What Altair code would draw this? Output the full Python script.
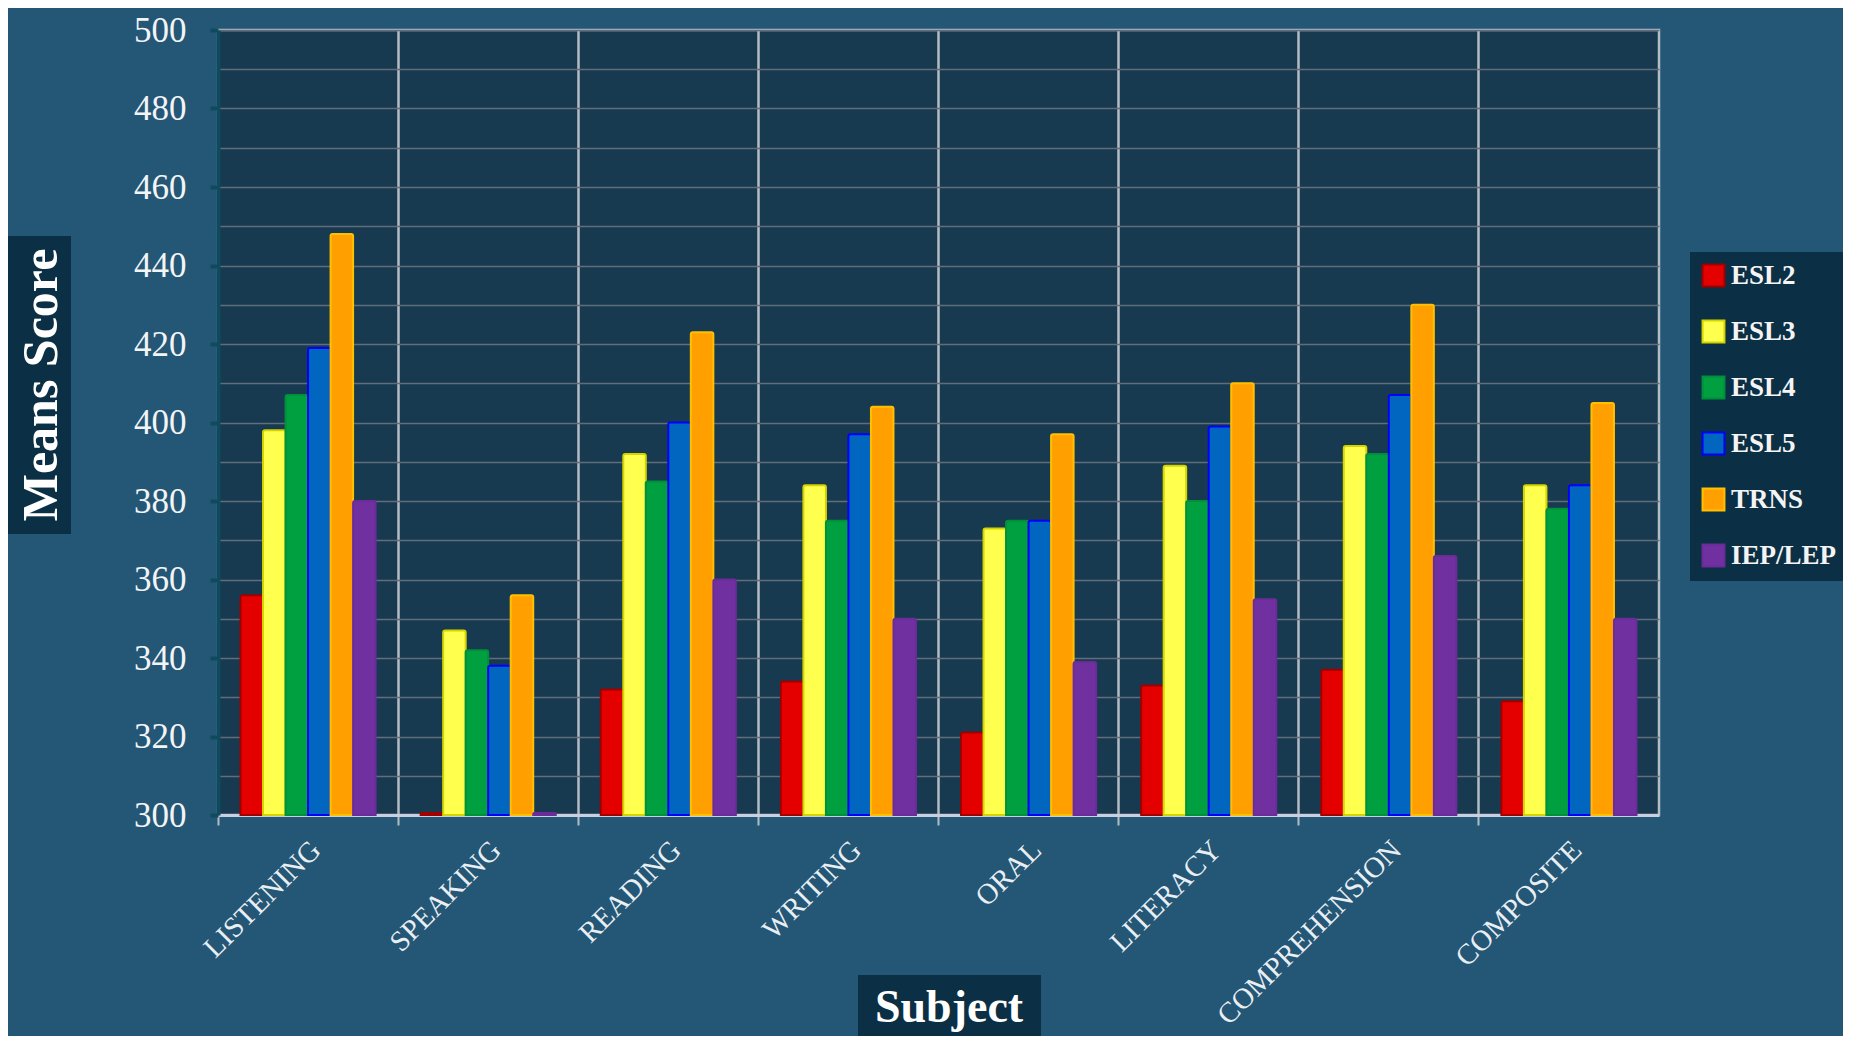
import altair as alt
import pandas as pd

subjects = ["LISTENING", "SPEAKING", "READING", "WRITING", "ORAL", "LITERACY", "COMPREHENSION", "COMPOSITE"]
series = ["ESL2", "ESL3", "ESL4", "ESL5", "TRNS", "IEP/LEP"]

esl2 = [356, 300.5, 332, 334, 321, 333, 337, 329]
esl3 = [398, 347, 392, 384, 373, 389, 394, 384]
esl4 = [407, 342, 385, 375, 375, 380, 392, 378]
esl5 = [419, 338, 400, 397, 375, 399, 407, 384]
trns = [448, 356, 423, 404, 397, 410, 430, 405]
iep = [380, 300.5, 360, 350, 339, 355, 366, 350]

fills = ["#e50000", "#ffff4d", "#00a040", "#0066c0", "#ffa000", "#7030a0"]
strokes = ["#a00000", "#d4d400", "#00903a", "#0000ff", "#ffc000", "#6b2c9a"]

y_ticks = list(range(300, 501, 10))

rows = []
for name, vals in zip(series, [esl2, esl3, esl4, esl5, trns, iep]):
    for s, v in zip(subjects, vals):
        rows.append({"subject": s, "series": name, "score": v})
df = pd.DataFrame(rows)

FONT = "Liberation Serif"
W, H = 1441, 785
TOP = 22

bars = alt.Chart(df).mark_bar(
    strokeWidth=2, cornerRadiusTopLeft=2, cornerRadiusTopRight=2
).encode(
    x=alt.X(
        "subject:N", sort=subjects,
        scale=alt.Scale(paddingInner=0, paddingOuter=0),
        axis=alt.Axis(
            title=None, bandPosition=0, grid=True, gridColor="#b4bcc4", gridWidth=2.5,
            domainColor="#c9cfe0", domainWidth=3, tickColor="#b4bcc4", tickWidth=2,
            tickSize=10, labelAngle=-45, labelAlign="right", labelBaseline="middle",
            labelOffset=8, labelPadding=20, labelFont=FONT, labelFontSize=29,
            labelColor="#e8eef2", labelLimit=500,
        ),
    ),
    xOffset=alt.XOffset("series:N", sort=series,
                        scale=alt.Scale(paddingInner=0, paddingOuter=1.0)),
    y=alt.Y(
        "score:Q",
        scale=alt.Scale(domain=[300, 500], zero=False, nice=False),
        axis=alt.Axis(
            title=None, values=y_ticks,
            labelExpr="datum.value % 20 == 0 ? datum.label : ''",
            labelFont=FONT, labelFontSize=35, labelColor="#f2f4f6", labelPadding=24,
            tickSize=8, tickWidth=4, tickColor="#0e4b5e",
            tickOpacity={"condition": {"test": "datum.value % 20 === 0", "value": 1}, "value": 0},
            domainColor="#0e4b5e", domainWidth=4,
            gridColor="#5f6e7a", gridWidth=1.5,
        ),
    ),
    y2=alt.datum(300),
    color=alt.Color(
        "series:N", sort=series,
        scale=alt.Scale(domain=series, range=fills),
        legend=alt.Legend(
            title=None, orient="none", legendX=1472, legendY=222,
            fillColor="#0b2f44", padding=10, symbolType="square", symbolSize=480,
            symbolStrokeWidth=2, labelFont=FONT, labelFontSize=27,
            labelFontWeight="bold", labelColor="#f4f4f4", rowPadding=25,
            labelOffset=4,
        ),
    ),
    stroke=alt.Stroke("series:N", sort=series,
                      scale=alt.Scale(domain=series, range=strokes), legend=None),
)

ytitle_df = pd.DataFrame({"label": ["Means Score"]})
ytitle_box = alt.Chart(ytitle_df).mark_rect(color="#0b2f44").encode(
    x=alt.value(-212), x2=alt.value(-147), y=alt.value(206), y2=alt.value(504)
)
ytitle_text = alt.Chart(ytitle_df).mark_text(
    angle=270, font=FONT, fontSize=50, fontWeight="bold", color="#ffffff",
    align="center", baseline="middle",
).encode(x=alt.value(-176), y=alt.value(355), text="label:N")

xtitle_df = pd.DataFrame({"label": ["Subject"]})
xtitle_box = alt.Chart(xtitle_df).mark_rect(color="#0b2f44").encode(
    x=alt.value(640), x2=alt.value(823), y=alt.value(945), y2=alt.value(1030)
)
xtitle_text = alt.Chart(xtitle_df).mark_text(
    font=FONT, fontSize=46, fontWeight="bold", color="#ffffff",
    align="center", baseline="middle",
).encode(x=alt.value(731), y=alt.value(978), text="label:N")

chart = alt.layer(bars, ytitle_box, ytitle_text, xtitle_box, xtitle_text).properties(
    width=W, height=H,
    autosize=alt.AutoSizeParams(type="none"),
    padding={"left": 210, "top": TOP, "right": 184, "bottom": 1028 - TOP - H},
).configure(background="#245676").configure_view(
    fill="#173a50", stroke="#b4bcc4", strokeWidth=2.5
)

chart.save("out.html", embed_options={"renderer": "svg", "actions": False})
